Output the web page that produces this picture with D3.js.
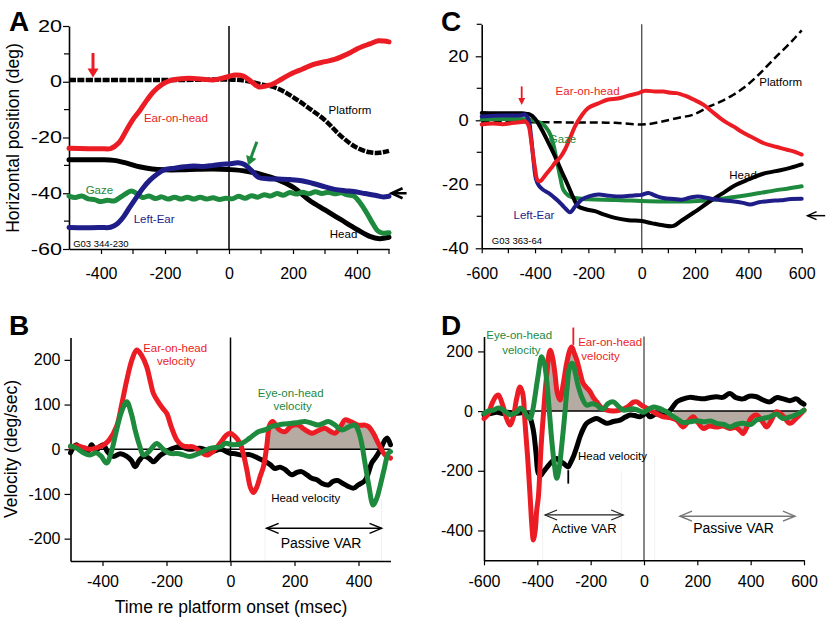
<!DOCTYPE html>
<html>
<head>
<meta charset="utf-8">
<script src="https://cdn.jsdelivr.net/npm/d3@7"></script>
<style>
body { margin: 0; background: #fff; }
text { font-family: "Liberation Sans", Arial, Helvetica, sans-serif; }
</style>
</head>
<body>
<script>
// ---------- panel A : horizontal position (deg), 344-230 ----------
var aPlatform = [[-500,0.6],[-400,0.6],[-300,0.6],[-200,0.6],[-100,0.7],[0,0.8],[50,0.4],[100,-0.9],[150,-2.3],[200,-5.5],[250,-9.5],[300,-13.8],[350,-19.5],[400,-23.7],[440,-25.3],[470,-25.5],[500,-24.8]];
var aEar = [[-500,-23.9],[-440,-24],[-400,-24],[-370,-24],[-345,-22],[-320,-17.3],[-300,-13.5],[-278,-10.2],[-256,-6.5],[-236,-3.6],[-210,-1],[-184,0.4],[-150,1.1],[-111,1.2],[-80,0.9],[-50,0.6],[-20,1.3],[0,1.9],[20,2.4],[45,2],[70,0],[92,-1.8],[115,-1.5],[133,-1],[165,1],[196,3],[230,4.6],[258,6],[300,7.2],[330,8],[352,9],[380,10.5],[404,12],[440,13.6],[467,14.7],[485,14.6],[500,14.3]];
var aHead = [[-500,-28],[-450,-28],[-400,-28],[-360,-28.2],[-320,-29.2],[-280,-30.5],[-240,-31.3],[-200,-31.6],[-150,-31.6],[-100,-31.4],[-50,-31.3],[0,-31.5],[50,-32],[100,-33.2],[150,-35],[200,-37.8],[250,-42.4],[300,-46],[350,-49.5],[400,-53],[440,-55.5],[470,-56.3],[500,-55.8]];
var aLeftEar = [[-500,-52.3],[-450,-52.4],[-400,-52.3],[-370,-52.2],[-350,-51],[-330,-48.5],[-310,-45],[-288,-41.3],[-268,-38],[-247,-35.3],[-225,-33.2],[-205,-31.7],[-170,-31],[-140,-30.5],[-111,-30.2],[-80,-30.4],[-50,-30],[-20,-29.6],[0,-29.5],[29,-29.1],[50,-29.8],[70,-31.8],[92,-34.3],[120,-34.8],[154,-34.9],[190,-35.1],[227,-35.5],[260,-36.4],[300,-37.7],[330,-38.6],[362,-39.1],[390,-39.4],[425,-40.1],[460,-40.8],[480,-41.3],[500,-41.1]];
var aGaze = [[-500,-41],[-480,-41.5],[-460,-41],[-440,-42],[-420,-42.3],[-400,-43],[-380,-42.5],[-360,-42.8],[-340,-41.5],[-320,-40],[-305,-39.2],[-290,-40],[-270,-41.5],[-250,-41],[-230,-41.9],[-210,-41.3],[-190,-42.1],[-170,-41.4],[-150,-42.1],[-130,-41.4],[-110,-42.1],[-90,-41.4],[-70,-42.1],[-50,-41.6],[-30,-42.2],[-10,-41.8],[10,-42],[30,-41.1],[50,-41.8],[70,-40.9],[90,-41.4],[110,-40.5],[130,-41],[150,-40.1],[170,-40.7],[190,-39.7],[210,-40.3],[230,-39.6],[250,-40.2],[270,-39.5],[290,-40.1],[310,-39.6],[330,-40.2],[350,-39.8],[370,-40.6],[390,-41],[410,-43.5],[430,-47],[450,-51],[465,-53.5],[480,-54.3],[500,-54.2]];

// ---------- panel B : velocities (deg/sec) ----------
var bEarVel = [[-500,5],[-480,8],[-460,4],[-440,0],[-420,3],[-400,8],[-380,20],[-356,51],[-340,100],[-324,155],[-308,200],[-293,222],[-278,210],[-262,185],[-250,150],[-241,125],[-225,105],[-210,90],[-199,80],[-185,50],[-168,21],[-150,8],[-137,6],[-115,5],[-95,-5],[-74,-13],[-55,-5],[-33,13],[-15,30],[-2,36],[15,28],[30,13],[40,-10],[51,-46],[62,-85],[71,-97],[82,-85],[93,-60],[103,-39],[113,5],[123,55],[132,62],[150,45],[170,39],[190,52],[212,54],[230,45],[254,36],[275,42],[295,47],[312,40],[327,36],[345,52],[358,66],[375,62],[399,54],[420,54],[431,51],[447,35],[462,13],[483,-13],[500,-20]];
var bEyeVel = [[-500,7],[-480,2],[-460,-8],[-439,-13],[-420,-8],[-405,-15],[-387,-31],[-372,-5],[-356,43],[-340,85],[-324,106],[-310,80],[-298,43],[-285,10],[-272,-13],[-255,-5],[-231,13],[-210,0],[-189,-9],[-160,-10],[-127,-16],[-95,-8],[-64,2],[-30,6],[-17,13],[9,10],[35,13],[60,25],[87,39],[110,44],[129,51],[160,56],[191,58],[212,60],[233,62],[255,58],[274,54],[290,58],[306,62],[325,55],[347,43],[370,50],[389,54],[400,40],[410,13],[420,-30],[431,-76],[446,-125],[457,-110],[467,-84],[480,-45],[493,-9],[500,-5]];
var bHeadVel = [[-500,-8],[-490,5],[-481,10],[-470,0],[-460,-5],[-449,-8],[-440,2],[-434,10],[-420,-4],[-410,5],[-397,10],[-385,-5],[-366,-16],[-345,-10],[-324,-16],[-310,-25],[-298,-39],[-285,-25],[-272,-16],[-255,-20],[-241,-28],[-220,-14],[-200,-5],[-180,2],[-158,6],[-130,0],[-95,2],[-60,-5],[-30,0],[-2,-9],[15,-10],[35,-13],[60,-12],[87,-20],[110,-28],[125,-35],[139,-43],[155,-40],[170,-45],[191,-57],[207,-52],[222,-50],[240,-58],[254,-65],[270,-68],[285,-76],[306,-80],[320,-72],[335,-70],[350,-76],[365,-82],[384,-87],[399,-80],[420,-70],[430,-55],[441,-31],[452,-20],[462,-9],[472,5],[483,21],[490,25],[500,10]];

// ---------- panel C : horizontal position (deg), 363-64 ----------
var cPlatform = [[-600,-0.5],[-400,-0.6],[-200,-0.7],[-100,-0.8],[0,-1.3],[40,-1],[81,-0.3],[140,0.8],[194,1.8],[256,4.4],[300,6],[344,8],[380,10],[419,12.7],[450,15.2],[481,17.9],[512,20.5],[544,23.1],[575,25.8],[600,28.1]];
var cEar = [[-600,-1.3],[-560,-1],[-520,-1.2],[-480,-0.8],[-450,-0.5],[-437,-0.3],[-425,-1.5],[-412,-8],[-400,-15],[-390,-18.8],[-380,-19],[-360,-17],[-340,-15],[-325,-13.3],[-305,-11.5],[-288,-9.2],[-270,-5.8],[-250,-1.9],[-225,1.5],[-200,3.9],[-165,5.2],[-125,6.5],[-90,6.8],[-50,7.7],[-15,8.4],[10,9.2],[50,9],[81,9],[110,8.6],[131,8.5],[165,7.6],[194,6.5],[231,4.9],[260,3],[294,0.7],[320,-0.8],[344,-1.9],[375,-3.6],[406,-5],[430,-6],[456,-7.1],[490,-8],[519,-8.6],[545,-9.2],[569,-9.7],[600,-10.7]];
var cHead = [[-600,2.3],[-550,2.2],[-500,2.2],[-450,2.2],[-430,2],[-419,1.8],[-400,0.5],[-375,-2.9],[-350,-7],[-325,-11.3],[-300,-16],[-275,-20.6],[-255,-24.5],[-238,-26.9],[-210,-27.8],[-175,-28.4],[-140,-29.5],[-100,-30.5],[-50,-31.2],[0,-31.5],[40,-32.2],[80,-32.8],[119,-33],[150,-31.3],[194,-28.9],[256,-25.3],[300,-23],[344,-20.6],[400,-18.5],[456,-16.7],[520,-15.6],[560,-14.8],[600,-13.8]];
var cGaze = [[-600,0.3],[-500,0.4],[-430,0.3],[-400,-0.2],[-380,-0.8],[-362,-1.9],[-340,-5],[-319,-12.3],[-305,-18],[-294,-21.7],[-275,-23.5],[-250,-24.3],[-200,-24.7],[-100,-24.9],[25,-25.3],[100,-25.4],[194,-25.3],[260,-24.9],[319,-24.3],[380,-23.6],[444,-22.7],[500,-21.9],[550,-21.3],[600,-20.6]];
var cLeftEar = [[-600,1.2],[-550,1.4],[-500,1.5],[-450,1.6],[-437,1.8],[-425,0.5],[-415,-5],[-406,-12.3],[-396,-18.5],[-385,-20.5],[-370,-21.7],[-350,-22.7],[-330,-24],[-312,-25.3],[-290,-27.2],[-269,-28.7],[-250,-27],[-225,-24.8],[-195,-23.7],[-162,-23.2],[-120,-23.6],[-75,-23.8],[-30,-23.5],[0,-23.3],[25,-22.7],[50,-23.5],[81,-24.3],[120,-24.6],[150,-24.8],[180,-24.2],[210,-23.8],[260,-24.5],[300,-25],[340,-25.3],[380,-25.8],[406,-26.3],[440,-25.6],[480,-25.2],[520,-25],[560,-24.6],[600,-24.5]];

// ---------- panel D : velocities (deg/sec) ----------
var dEarVel = [[-600,-25],[-585,-10],[-570,25],[-555,50],[-546,54],[-530,20],[-515,-25],[-502,-47],[-490,-20],[-478,40],[-465,81],[-455,60],[-446,-41],[-436,-160],[-427,-287],[-420,-390],[-415,-432],[-408,-400],[-402,-330],[-396,-287],[-386,-120],[-377,-8],[-366,110],[-352,204],[-343,180],[-334,126],[-325,60],[-315,37],[-303,90],[-290,160],[-278,205],[-271,215],[-262,195],[-252,171],[-240,130],[-228,93],[-215,78],[-202,65],[-190,45],[-177,31],[-160,12],[-140,3],[-115,0],[-90,3],[-60,15],[-40,30],[-27,31],[-10,20],[10,10],[22,3],[45,-8],[72,-19],[98,-22],[123,-30],[147,-53],[165,-35],[185,-19],[200,-35],[222,-58],[245,-50],[272,-53],[297,-50],[322,-58],[345,-55],[360,-65],[372,-75],[385,-55],[400,-25],[422,-13],[440,-30],[460,-53],[478,-30],[497,-2],[520,-15],[547,-41],[575,-20],[600,3]];
var dEyeVel = [[-600,-8],[-585,0],[-565,3],[-550,10],[-540,10],[-520,-2],[-502,-12],[-490,-8],[-477,-4],[-465,10],[-452,3],[-440,-15],[-427,-25],[-418,0],[-409,48],[-397,120],[-384,182],[-374,160],[-365,104],[-355,0],[-346,-97],[-336,-180],[-327,-225],[-318,-190],[-309,-120],[-298,-20],[-288,81],[-278,150],[-268,160],[-257,125],[-246,81],[-230,40],[-215,20],[-195,25],[-177,20],[-165,10],[-152,8],[-135,25],[-115,31],[-95,15],[-77,3],[-60,5],[-40,8],[-20,2],[-2,-4],[15,5],[35,14],[55,10],[72,3],[90,-5],[105,-15],[123,-25],[145,-38],[172,-36],[200,-32],[222,-36],[250,-33],[272,-41],[300,-45],[322,-53],[345,-45],[372,-41],[400,-45],[422,-30],[445,-25],[472,-19],[497,-10],[522,-25],[545,-20],[570,-12],[585,-5],[600,3]];
var dHeadVel = [[-600,-13],[-575,-8],[-552,-4],[-530,-8],[-510,-4],[-490,-8],[-465,-6],[-440,-8],[-428,-20],[-415,-64],[-405,-140],[-396,-209],[-387,-215],[-377,-203],[-365,-190],[-352,-175],[-340,-165],[-327,-159],[-315,-168],[-302,-175],[-292,-183],[-284,-187],[-274,-170],[-265,-153],[-252,-120],[-240,-86],[-228,-60],[-215,-41],[-195,-30],[-177,-25],[-160,-32],[-140,-41],[-115,-35],[-90,-30],[-70,-20],[-52,-13],[-35,-15],[-15,-19],[10,-8],[22,-19],[45,-10],[72,-13],[90,-5],[105,10],[123,31],[145,40],[172,46],[195,44],[222,41],[245,45],[272,48],[295,46],[322,59],[345,45],[372,41],[395,50],[422,48],[445,38],[472,31],[497,45],[522,41],[547,35],[572,41],[587,30],[600,23]];

// axis ticks
var ticksA_y = [-60,-40,-20,0,20], minorA_y = [-50,-30,-10,10];
var ticksC_y = [-40,-20,0,20], minorC_y = [-30,-10,10,30];
var ticksB_y = [-200,-100,0,100,200];
var ticksD_y = [-400,-200,0,200];
var ticksAB_x = [-400,-200,0,200,400];
var ticksCD_x = [-600,-400,-200,0,200,400,600];

var RED = "#ec1c24", GREEN = "#1d8a3d", NAVY = "#1f1e88", SHADE = "#b6aba3";

var svg = d3.select("body").append("svg")
    .attr("width", 827)
    .attr("height", 618);

function lineFor(x, y) {
    return d3.line()
        .x(function(d) { return x(d[0]); })
        .y(function(d) { return y(d[1]); })
        .curve(d3.curveCatmullRom.alpha(0.5));
}

function drawLine(g, data, x, y, color, width, dash) {
    var p = g.append("path")
        .datum(data)
        .attr("d", lineFor(x, y))
        .attr("fill", "none")
        .attr("stroke", color)
        .attr("stroke-width", width)
        .attr("stroke-linejoin", "round")
        .attr("stroke-linecap", "round");
    if (dash) p.attr("stroke-dasharray", dash).attr("stroke-linecap", "butt");
}

function label(g, txt, px, py, color, size, anchor) {
    g.append("text")
        .attr("x", px).attr("y", py)
        .attr("fill", color)
        .attr("font-size", size)
        .attr("text-anchor", anchor || "middle")
        .text(txt);
}

// solid arrow with filled head, tip at (x2,y2)
function solidArrow(g, x1, y1, x2, y2, color, w, hl, hw) {
    var dx = x2 - x1, dy = y2 - y1, L = Math.sqrt(dx*dx + dy*dy);
    var ux = dx / L, uy = dy / L;
    var bx = x2 - ux*hl, by = y2 - uy*hl;
    g.append("line").attr("x1", x1).attr("y1", y1).attr("x2", bx + ux*1).attr("y2", by + uy*1)
        .attr("stroke", color).attr("stroke-width", w);
    g.append("path")
        .attr("d", "M" + x2 + "," + y2 + "L" + (bx - uy*hw) + "," + (by + ux*hw) + "L" + (bx + uy*hw) + "," + (by - ux*hw) + "Z")
        .attr("fill", color);
}

// horizontal arrow with open chevron heads
function openArrow(g, x1, x2, yy, color, w, hl, hw, both) {
    g.append("line").attr("x1", x1).attr("y1", yy).attr("x2", x2).attr("y2", yy)
        .attr("stroke", color).attr("stroke-width", w);
    g.append("path")
        .attr("d", "M" + (x1 + hl) + "," + (yy - hw) + "L" + x1 + "," + yy + "L" + (x1 + hl) + "," + (yy + hw))
        .attr("fill", "none").attr("stroke", color).attr("stroke-width", w);
    if (both) {
        g.append("path")
            .attr("d", "M" + (x2 - hl) + "," + (yy - hw) + "L" + x2 + "," + yy + "L" + (x2 - hl) + "," + (yy + hw))
            .attr("fill", "none").attr("stroke", color).attr("stroke-width", w);
    }
}

function drawAxes(g, x, y, xTicks, xMinor, yTicks, yMinor, xPad, yPad, yStretch) {
    var xa = g.append("g")
        .attr("transform", "translate(0," + y.range()[0] + ")")
        .call(d3.axisBottom(x).tickValues(xTicks).tickSize(5).tickSizeOuter(0).tickPadding(xPad)
            .tickFormat(function(d) { return String(d); }));
    if (xMinor) {
        xa.selectAll(".minor").data(xMinor).enter().append("line")
            .attr("x1", function(d) { return x(d); }).attr("x2", function(d) { return x(d); })
            .attr("y1", 0).attr("y2", 5).attr("stroke", "#000").attr("stroke-width", 1.2);
    }
    var ya = g.append("g")
        .attr("transform", "translate(" + x.range()[0] + ",0)")
        .call(d3.axisLeft(y).tickValues(yTicks).tickSize(6).tickSizeOuter(0).tickPadding(yPad)
            .tickFormat(function(d) { return String(d); }));
    if (yMinor) {
        ya.selectAll(".minor").data(yMinor).enter().append("line")
            .attr("y1", function(d) { return y(d); }).attr("y2", function(d) { return y(d); })
            .attr("x1", 0).attr("x2", -5).attr("stroke", "#000").attr("stroke-width", 1.2);
    }
    [xa, ya].forEach(function(a) {
        a.selectAll("text").attr("font-size", 16).attr("fill", "#000")
            .style("font-family", "'Liberation Sans', Arial, sans-serif");
        a.selectAll(".tick line").attr("stroke-width", 1.2);
        a.select(".domain").attr("stroke-width", 1.6);
    });
    if (yStretch) {
        var off = 6 + yPad;
        ya.selectAll(".tick text")
            .attr("transform", "translate(" + (-off) + ",0) scale(" + yStretch + ",1) translate(" + off + ",0)");
    }
}

// ================= Panel A =================
var xA = d3.scaleLinear().domain([-500, 500]).range([69, 389]);
var yA = d3.scaleLinear().domain([-60, 20]).range([249, 26]);
var gA = svg.append("g");
gA.append("line").attr("x1", xA(0)).attr("x2", xA(0)).attr("y1", yA(20)).attr("y2", yA(-60))
    .attr("stroke", "#000").attr("stroke-width", 1.5);
drawAxes(gA, xA, yA, ticksAB_x, [-300,-100,100,300,500], ticksA_y, minorA_y, 14, 1, 1.35);
drawLine(gA, aPlatform, xA, yA, "#000", 4.5, "7,1.4");
drawLine(gA, aHead, xA, yA, "#000", 5);
drawLine(gA, aGaze, xA, yA, GREEN, 5);
drawLine(gA, aLeftEar, xA, yA, NAVY, 5);
drawLine(gA, aEar, xA, yA, RED, 5);
solidArrow(gA, xA(-425), yA(10.3), xA(-425), yA(1.5), RED, 3, 9, 5.5);
solidArrow(gA, xA(87), yA(-21.5), xA(60), yA(-30), GREEN, 3, 9, 5.5);
openArrow(gA, xA(508), xA(555), yA(-40), "#000", 2.5, 11, 5, false);
label(gA, "Ear-on-head", xA(-166), yA(-14.5), RED, 11.5);
label(gA, "Platform", xA(378), yA(-11.6), "#000", 11.5);
label(gA, "Gaze", xA(-405), yA(-40.4), GREEN, 11.5);
label(gA, "Left-Ear", xA(-234), yA(-50.7), NAVY, 11.5);
label(gA, "Head", xA(358), yA(-56.1), "#000", 11.5);
label(gA, "G03 344-230", xA(-487), yA(-59.4), "#000", 9.5, "start");

// ================= Panel C =================
var xC = d3.scaleLinear().domain([-600, 600]).range([481.7, 801.7]);
var yC = d3.scaleLinear().domain([-40, 30]).range([248.3, 24.3]);
var gC = svg.append("g");
gC.append("line").attr("x1", xC(0)).attr("x2", xC(0)).attr("y1", yC(30)).attr("y2", yC(-40))
    .attr("stroke", "#555").attr("stroke-width", 1.4);
drawAxes(gC, xC, yC, ticksCD_x, [-500,-300,-100,100,300,500], ticksC_y, minorC_y, 14, 7, 1.15);
drawLine(gC, cPlatform, xC, yC, "#000", 2.5, "8,4");
drawLine(gC, cGaze, xC, yC, GREEN, 4);
drawLine(gC, cHead, xC, yC, "#000", 4);
drawLine(gC, cLeftEar, xC, yC, NAVY, 4);
drawLine(gC, cEar, xC, yC, RED, 4);
solidArrow(gC, xC(-450), yC(10.6), xC(-450), yC(4.8), RED, 1.8, 7, 3.5);
openArrow(gC, xC(622), xC(688), yC(-29.8), "#000", 1.5, 9, 4, false);
label(gC, "Ear-on-head", xC(-203), yC(8), RED, 11.5);
label(gC, "Platform", xC(521), yC(10.8), "#000", 11.5);
label(gC, "Gaze", xC(-297), yC(-7), GREEN, 11.5);
label(gC, "Left-Ear", xC(-404), yC(-30.7), NAVY, 11.5);
label(gC, "Head", xC(380), yC(-18.2), "#000", 11.5);
label(gC, "G03 363-64", xC(-562), yC(-38.5), "#000", 9.5, "start");

// ================= Panel B =================
var xB = d3.scaleLinear().domain([-500, 500]).range([70.5, 390.5]);
var yB = d3.scaleLinear().domain([-250, 250]).range([561, 337.5]);
var gB = svg.append("g");
svg.append("clipPath").attr("id", "clipB").append("rect")
    .attr("x", xB(110)).attr("y", 0).attr("width", xB(482) - xB(110)).attr("height", 618);
gB.append("path").datum(bEarVel)
    .attr("clip-path", "url(#clipB)")
    .attr("fill", SHADE)
    .attr("d", d3.area().x(function(d) { return xB(d[0]); }).y0(yB(0))
        .y1(function(d) { return yB(Math.max(d[1], 0)); }).curve(d3.curveCatmullRom.alpha(0.5)));
[108, 472].forEach(function(t) {
    gB.append("line").attr("x1", xB(t)).attr("x2", xB(t)).attr("y1", yB(-110)).attr("y2", yB(-250))
        .attr("stroke", "#f1f1f1").attr("stroke-width", 1);
});
gB.append("line").attr("x1", xB(-500)).attr("x2", xB(500)).attr("y1", yB(0)).attr("y2", yB(0))
    .attr("stroke", "#000").attr("stroke-width", 1.5);
gB.append("line").attr("x1", xB(0)).attr("x2", xB(0)).attr("y1", yB(250)).attr("y2", yB(-250))
    .attr("stroke", "#000").attr("stroke-width", 1.5);
drawAxes(gB, xB, yB, ticksAB_x, null, ticksB_y, null, 10, 4, null);
drawLine(gB, bHeadVel, xB, yB, "#000", 5);
drawLine(gB, bEarVel, xB, yB, RED, 5);
drawLine(gB, bEyeVel, xB, yB, GREEN, 5);
openArrow(gB, xB(113), xB(472), yB(-177), "#000", 1.5, 12, 5, true);
label(gB, "Passive VAR", xB(283), yB(-221), "#000", 14);
label(gB, "Ear-on-head", xB(-173), yB(218), RED, 11.5);
label(gB, "velocity", xB(-170), yB(189), RED, 11.5);
label(gB, "Eye-on-head", xB(188), yB(118), GREEN, 11.5);
label(gB, "velocity", xB(194), yB(88), GREEN, 11.5);
label(gB, "Head velocity", xB(235), yB(-119), "#000", 11.5);

// ================= Panel D =================
var xD = d3.scaleLinear().domain([-600, 600]).range([484, 804]);
var yD = d3.scaleLinear().domain([-500, 250]).range([560.3, 336.5]);
var gD = svg.append("g");
var clipD = svg.append("clipPath").attr("id", "clipD");
clipD.append("rect").attr("x", xD(-378)).attr("y", 0).attr("width", xD(-85) - xD(-378)).attr("height", 618);
clipD.append("rect").attr("x", xD(110)).attr("y", 0).attr("width", xD(600) - xD(110)).attr("height", 618);
gD.append("path").datum(dEarVel)
    .attr("clip-path", "url(#clipD)")
    .attr("fill", SHADE)
    .attr("d", d3.area().x(function(d) { return xD(d[0]); }).y0(yD(0))
        .y1(function(d) { return yD(d[1]); }).curve(d3.curveCatmullRom.alpha(0.5)));
[[-380,-200],[-85,-200],[40,-150]].forEach(function(p) {
    gD.append("line").attr("x1", xD(p[0])).attr("x2", xD(p[0])).attr("y1", yD(p[1])).attr("y2", yD(-500))
        .attr("stroke", "#f1f1f1").attr("stroke-width", 1);
});
gD.append("line").attr("x1", xD(-600)).attr("x2", xD(600)).attr("y1", yD(0)).attr("y2", yD(0))
    .attr("stroke", "#000").attr("stroke-width", 1.5);
gD.append("line").attr("x1", xD(0)).attr("x2", xD(0)).attr("y1", yD(250)).attr("y2", yD(-500))
    .attr("stroke", "#555").attr("stroke-width", 1.4);
drawAxes(gD, xD, yD, ticksCD_x, null, ticksD_y, null, 10, 5, null);
drawLine(gD, dHeadVel, xD, yD, "#000", 5);
drawLine(gD, dEarVel, xD, yD, RED, 5);
drawLine(gD, dEyeVel, xD, yD, GREEN, 5);
gD.append("line").attr("x1", xD(-265)).attr("x2", xD(-265)).attr("y1", yD(280)).attr("y2", yD(222))
    .attr("stroke", RED).attr("stroke-width", 1.8);
gD.append("line").attr("x1", xD(-284)).attr("x2", xD(-284)).attr("y1", yD(-198)).attr("y2", yD(-243))
    .attr("stroke", "#000").attr("stroke-width", 1.8);
openArrow(gD, xD(-371), xD(-78), yD(-348), "#222", 1.2, 12, 5, true);
openArrow(gD, xD(135), xD(566), yD(-352), "#777", 1.5, 12, 5, true);
label(gD, "Active VAR", xD(-224), yD(-410), "#000", 13);
label(gD, "Passive VAR", xD(336), yD(-410), "#000", 14);
label(gD, "Eye-on-head", xD(-468), yD(243), GREEN, 11.5);
label(gD, "velocity", xD(-460), yD(193), GREEN, 11.5);
label(gD, "Ear-on-head", xD(-127), yD(218), RED, 11.5);
label(gD, "velocity", xD(-163), yD(171), RED, 11.5);
label(gD, "Head velocity", xD(-118), yD(-164), "#000", 11.5);

// ---------- panel letters and axis titles ----------
[["A", 9, 31], ["C", 441, 31], ["B", 9, 335], ["D", 441, 335]].forEach(function(p) {
    svg.append("text").attr("x", p[1]).attr("y", p[2])
        .attr("font-size", 28).attr("font-weight", "bold").text(p[0]);
});
svg.append("text")
    .attr("transform", "translate(19,138) rotate(-90)")
    .attr("text-anchor", "middle").attr("font-size", 17.5)
    .text("Horizontal position (deg)");
svg.append("text")
    .attr("transform", "translate(17,449) rotate(-90)")
    .attr("text-anchor", "middle").attr("font-size", 17.5)
    .text("Velocity (deg/sec)");
svg.append("text")
    .attr("x", 231).attr("y", 613)
    .attr("text-anchor", "middle").attr("font-size", 17.5)
    .text("Time re platform onset (msec)");
</script>
</body>
</html>
